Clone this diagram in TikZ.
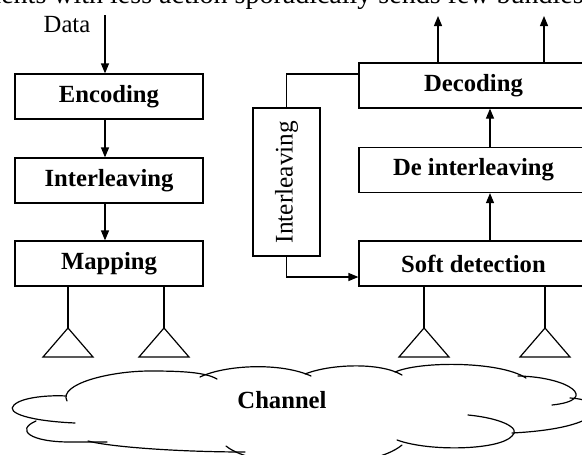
\documentclass[tikz,border=0pt]{standalone}
\usepackage{fontspec}
\setmainfont{Liberation Serif}
\usetikzlibrary{arrows.meta}
\begin{document}
\begin{tikzpicture}[x=0.75pt,y=-0.75pt,
  box/.style={draw,line width=0.9pt,minimum height=33.75pt,inner sep=0pt,font=\fontsize{18.5}{20}\selectfont\bfseries},
  lbox/.style={box,minimum width=141pt},
  rbox/.style={box,minimum width=171.75pt},
  arr/.style={line width=0.9pt,-{Triangle[length=7.5pt,width=6pt]}},
  wire/.style={line width=0.9pt},
  cloudline/.style={line width=0.9pt,line cap=round},
  plain/.style={font=\fontsize{18.5}{20}\selectfont}]
\useasboundingbox (0,0) rectangle (582,454);
\clip (0,0) rectangle (582,454);

% cut-off caption line at the top
\node[anchor=base east,font=\fontsize{21}{24}\selectfont,inner sep=0pt] (toptext) at (584,3) {clients with less action sporadically sends few bundles};

% left chain
\node[plain,anchor=base,inner sep=0pt] (data) at (67,32) {Data};
\node[lbox] (enc) at (109,96.5) {Encoding};
\node[lbox] (il) at (109,180.5) {Interleaving};
\node[lbox] (map) at (109,263.5) {Mapping};

\coordinate (din) at (105,15);
\draw[arr] (din) -- (din |- enc.north);
\draw[arr] (enc.south -| din) -- (il.north -| din);
\draw[arr] (il.south -| din) -- (map.north -| din);

% right chain
\node[rbox] (dec) at (473.5,85.5) {Decoding};
\node[rbox] (deint) at (473.5,170) {De interleaving};
\node[rbox] (soft) at (473.5,263.5) {Soft detection};

\coordinate (mid) at (490,0);
\draw[arr] (soft.north -| mid) -- (deint.south -| mid);
\draw[arr] (deint.north -| mid) -- (dec.south -| mid);

\coordinate (out1) at (438,16);
\coordinate (out2) at (544,16);
\draw[arr] (dec.north -| out1) -- (out1);
\draw[arr] (dec.north -| out2) -- (out2);

% vertical interleaving feedback
\node[draw,line width=0.9pt,minimum width=50.25pt,minimum height=111pt,inner sep=0pt,font=\fontsize{19}{20}\selectfont] (vil) at (286.5,182) {\rotatebox{90}{Interleaving}};
\draw[wire] (vil.north) |- (dec.west |- 0,74);
\draw[arr] (vil.south) |- (soft.west |- 0,277);

% antennas
\foreach \n/\x/\b in {a1/68/map, a2/164/map, a3/424/soft, a4/545/soft}{
  \coordinate (\n) at (\x,328);
  \draw[wire] (\b.south -| \n) -- (\n);
  \draw[wire] (\n) -- ++(-25,29) -- ++(50,0) -- cycle;
}

% cloud
\draw[cloudline] (75,423) .. controls (30,421) and (5,413) .. (14,405) .. controls (22,397) and (50,395) .. (66,396);
\draw[cloudline] (67,401) .. controls (58,384) and (110,371) .. (150,371) .. controls (180,371) and (205,372) .. (217,379);
\draw[cloudline] (200,377) .. controls (225,365) and (280,362) .. (311,376);
\draw[cloudline] (305,374) .. controls (330,364) and (380,362) .. (402,375);
\draw[cloudline] (395,372) .. controls (420,361) and (500,361) .. (526,378);
\draw[cloudline] (518,376) .. controls (570,377) and (600,400) .. (552,405);
\draw[cloudline] (570,398) .. controls (610,400) and (610,428) .. (512,433);
\draw[cloudline] (468,415) .. controls (500,418) and (522,428) .. (512,436) .. controls (500,450) and (430,452) .. (397,440);
\draw[cloudline] (402,445) .. controls (370,472) and (255,470) .. (226,446);
\draw[cloudline] (245,452) .. controls (180,452) and (110,447) .. (88,441);
\draw[cloudline] (36,421) .. controls (15,430) and (30,442) .. (70,442) .. controls (85,442) and (100,442) .. (107,442);
\node[font=\fontsize{18.5}{20}\selectfont\bfseries] (ch) at (282,400) {Channel};
\end{tikzpicture}
\end{document}
